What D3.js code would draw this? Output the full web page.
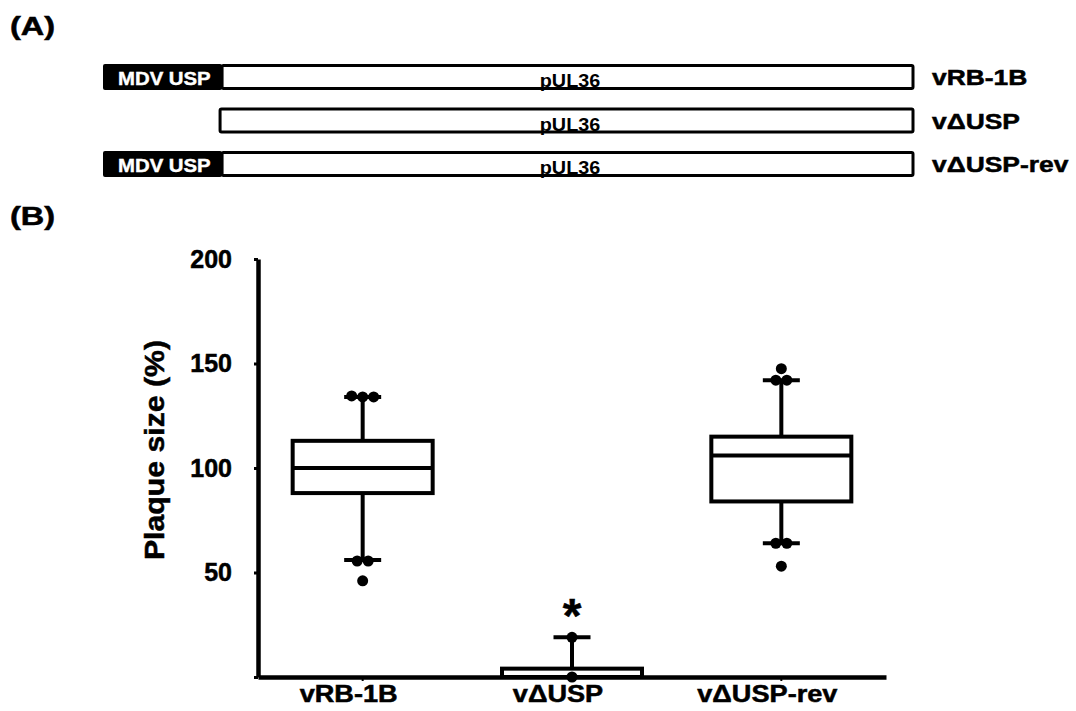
<!DOCTYPE html>
<html>
<head>
<meta charset="utf-8">
<script src="https://cdn.jsdelivr.net/npm/d3@7"></script>
<style>
  html, body { margin: 0; padding: 0; background: #fff; }
  svg { display: block; font-family: "Liberation Sans", Arial, sans-serif; }
  .heavy { font-weight: bold; stroke: #000; stroke-width: 0.5px; }
  .heavyw { font-weight: bold; stroke: #fff; stroke-width: 0.4px; }
</style>
</head>
<body>
<svg id="chart" width="1076" height="711"></svg>
<script>
// ---------- data ----------
const constructs = ["vRB-1B", "vΔUSP", "vΔUSP-rev"];
const hasUSP = [true, false, true];
const segmentNames = ["MDV USP", "pUL36"];
const segmentStart = [0, 0.147];
const segmentEnd = [0.147, 1];

const categories = ["vRB-1B", "vΔUSP", "vΔUSP-rev"];
const whiskerLow = [56, 0, 64];
const q1 = [88, 0, 84];
const median = [100, 0, 106];
const q3 = [113, 4, 115];
const whiskerHigh = [134, 19, 142];
const pointCategory = ["vRB-1B", "vRB-1B", "vRB-1B", "vRB-1B", "vRB-1B", "vRB-1B",
                       "vΔUSP", "vΔUSP",
                       "vΔUSP-rev", "vΔUSP-rev", "vΔUSP-rev", "vΔUSP-rev", "vΔUSP-rev", "vΔUSP-rev"];
const pointValue = [134.5, 134, 134, 55.5, 55.5, 46,
                    19, 0,
                    147.5, 142, 142, 64, 64, 53];
const significance = ["", "*", ""];
const yTicks = [0, 50, 100, 150, 200];
const yTitle = "Plaque size (%)";
const panelLabels = ["(A)", "(B)"];

// ---------- helpers ----------
const svg = d3.select("#chart");
// widen text horizontally (the reference uses a wide, heavy face)
function widen(sel, f) {
  sel.each(function () {
    const w = this.getComputedTextLength();
    d3.select(this).attr("textLength", w * f).attr("lengthAdjust", "spacingAndGlyphs");
  });
}

// panel labels
widen(svg.append("text").attr("x", 10).attr("y", 35).text(panelLabels[0])
  .attr("class", "heavy").attr("font-size", 26), 1.25);
widen(svg.append("text").attr("x", 10).attr("y", 225).text(panelLabels[1])
  .attr("class", "heavy").attr("font-size", 26), 1.25);

// ----- Panel A: construct diagrams -----
const gx = d3.scaleLinear().domain([0, 1]).range([103, 913]);
const rowY = d3.scalePoint().domain(constructs).range([64, 151]);
const rowH = 26;

const rows = svg.append("g").selectAll("g").data(constructs).join("g")
  .attr("transform", d => `translate(0,${rowY(d)})`);

rows.each(function (d, i) {
  const g = d3.select(this);
  if (hasUSP[i]) {
    g.append("rect")
      .attr("x", gx(segmentStart[0])).attr("y", 0)
      .attr("width", gx(segmentEnd[0]) - gx(segmentStart[0]))
      .attr("height", rowH).attr("rx", 2).attr("fill", "#000");
    widen(g.append("text")
      .attr("x", gx(segmentStart[0]) + 15).attr("y", rowH - 5)
      .attr("fill", "#fff").attr("class", "heavyw").attr("font-size", 18)
      .text(segmentNames[0]), 1.13);
  }
  g.append("rect")
    .attr("x", gx(segmentStart[1]) - (hasUSP[i] ? 0 : 2)).attr("y", 1.5)
    .attr("width", gx(segmentEnd[1]) - gx(segmentStart[1]) + (hasUSP[i] ? 0 : 2))
    .attr("height", rowH - 3).attr("rx", 1.5)
    .attr("fill", "#fff").attr("stroke", "#000").attr("stroke-width", 3);
  widen(g.append("text")
    .attr("x", 570).attr("y", rowH - 3)
    .attr("text-anchor", "middle").attr("font-size", 18).attr("font-weight", "bold")
    .text(segmentNames[1]), 1.1);
  widen(g.append("text")
    .attr("x", 932).attr("y", rowH / 2 + 8)
    .attr("class", "heavy").attr("font-size", 22)
    .text(d), 1.2);
});

// ----- Panel B: box plot -----
const y = d3.scaleLinear().domain([0, 200]).range([677, 259]);
const x = d3.scaleBand().domain(categories).range([258, 886]).padding(0);
const cx = c => x(c) + x.bandwidth() / 2;
const boxW = 140, capW = 37;

// y axis
const yAxis = svg.append("g").attr("transform", "translate(258,0)")
  .call(d3.axisLeft(y).tickValues(yTicks).tickSize(4).tickSizeOuter(0).tickPadding(22)
    .tickFormat(d => d === 0 ? "" : d));
yAxis.select(".domain").attr("stroke-width", 4.5);
yAxis.selectAll(".tick line").attr("stroke-width", 3);
yAxis.selectAll(".tick text").attr("font-size", 25).attr("class", "heavy")
  .attr("font-family", "Liberation Sans, Arial, sans-serif").attr("fill", "#000");

// x axis
const xAxis = svg.append("g").attr("transform", "translate(0,677)")
  .call(d3.axisBottom(x).tickSize(4).tickSizeOuter(0).tickPadding(5));
xAxis.select(".domain").attr("stroke-width", 4.5);
xAxis.selectAll(".tick line").attr("stroke-width", 2);
const xt = xAxis.selectAll(".tick text").attr("font-size", 23).attr("class", "heavy")
  .attr("font-family", "Liberation Sans, Arial, sans-serif").attr("fill", "#000")
  .attr("dx", -14);
widen(xt, 1.18);

// y title
widen(svg.append("text")
  .attr("transform", "translate(164,450) rotate(-90)")
  .attr("text-anchor", "middle").attr("font-size", 28).attr("class", "heavy")
  .text(yTitle), 1.08);

const plot = svg.append("g");
categories.forEach((c, i) => {
  const g = plot.append("g");
  const sw = 4;
  // whiskers
  g.append("line").attr("x1", cx(c)).attr("x2", cx(c))
    .attr("y1", y(q3[i])).attr("y2", y(whiskerHigh[i]))
    .attr("stroke", "#000").attr("stroke-width", sw);
  g.append("line").attr("x1", cx(c) - capW / 2).attr("x2", cx(c) + capW / 2)
    .attr("y1", y(whiskerHigh[i])).attr("y2", y(whiskerHigh[i]))
    .attr("stroke", "#000").attr("stroke-width", sw);
  if (whiskerLow[i] < q1[i]) {
    g.append("line").attr("x1", cx(c)).attr("x2", cx(c))
      .attr("y1", y(q1[i])).attr("y2", y(whiskerLow[i]))
      .attr("stroke", "#000").attr("stroke-width", sw);
    g.append("line").attr("x1", cx(c) - capW / 2).attr("x2", cx(c) + capW / 2)
      .attr("y1", y(whiskerLow[i])).attr("y2", y(whiskerLow[i]))
      .attr("stroke", "#000").attr("stroke-width", sw);
  }
  // box
  g.append("rect").attr("x", cx(c) - boxW / 2).attr("width", boxW)
    .attr("y", y(q3[i])).attr("height", y(q1[i]) - y(q3[i]))
    .attr("fill", "#fff").attr("stroke", "#000").attr("stroke-width", sw);
  g.append("line").attr("x1", cx(c) - boxW / 2).attr("x2", cx(c) + boxW / 2)
    .attr("y1", y(median[i])).attr("y2", y(median[i]))
    .attr("stroke", "#000").attr("stroke-width", sw);
  if (significance[i]) {
    g.append("text").attr("x", cx(c)).attr("y", y(whiskerHigh[i]) - 5)
      .attr("text-anchor", "middle").attr("font-size", 48).attr("class", "heavy")
      .text(significance[i]);
  }
});

// points (simple swarm: points with near-equal values spread horizontally)
const pts = pointValue.map((v, i) => ({ c: pointCategory[i], v }));
const groups = d3.groups(pts, d => d.c + "|" + Math.round(d.v / 3));
groups.forEach(([, arr]) => {
  const n = arr.length;
  arr.forEach((p, k) => { p.off = (k - (n - 1) / 2) * 11; });
});
plot.selectAll("circle").data(pts).join("circle")
  .attr("cx", d => cx(d.c) + d.off)
  .attr("cy", d => y(d.v))
  .attr("r", 5.5).attr("fill", "#000");
</script>
</body>
</html>
